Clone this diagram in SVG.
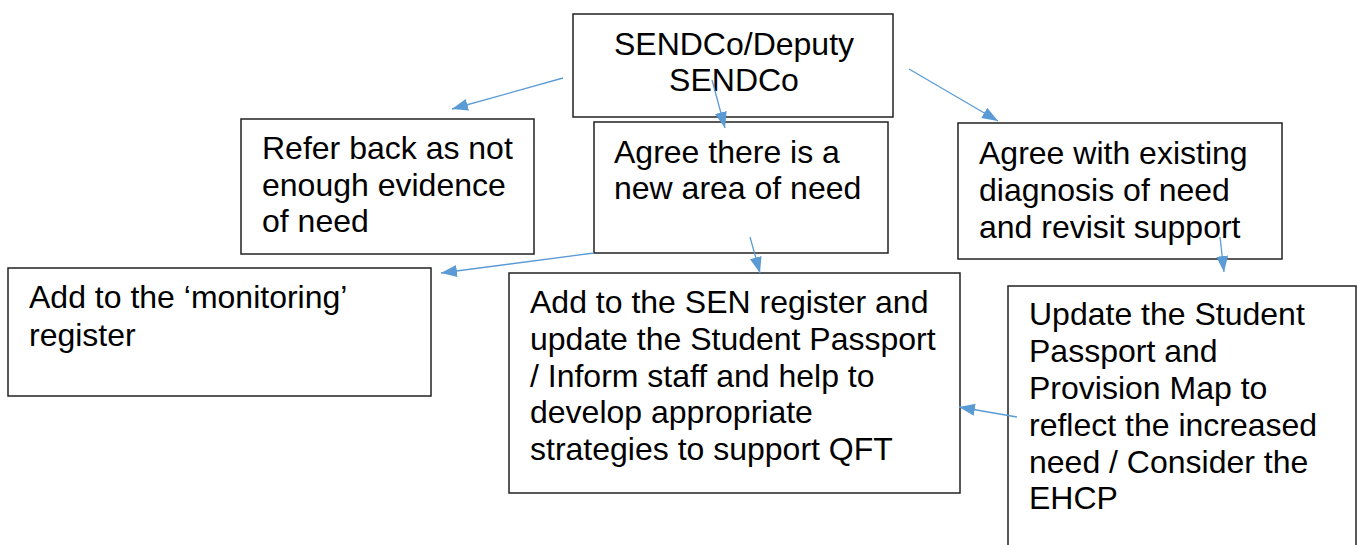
<svg xmlns="http://www.w3.org/2000/svg" width="1358" height="545" viewBox="0 0 1358 545">
<style>
.box{fill:#fff;stroke:#222;stroke-width:1.5}
.t{font-family:"Liberation Sans",Arial,sans-serif;font-size:32px;fill:#000}
.c{text-anchor:middle}
.conn line{stroke:#5B9BD5;stroke-width:1.3;fill:none}
</style>
<defs>
<marker id="ah" viewBox="0 0 16 12" refX="16" refY="6" markerWidth="16" markerHeight="12" markerUnits="userSpaceOnUse" orient="auto">
<path d="M0,0 L16,6 L0,12 z" fill="#5B9BD5"/>
</marker>
</defs>
<rect width="1358" height="545" fill="#fff"/>
<g id="n-sendco">
<rect class="box" x="573" y="14" width="320" height="103"/>
<text class="t c" x="734" y="55">SENDCo/Deputy</text>
<text class="t c" x="734" y="91">SENDCo</text>
</g>
<g id="n-refer">
<rect class="box" x="241" y="119" width="293" height="135"/>
<text class="t" x="262" y="159">Refer back as not</text>
<text class="t" x="262" y="196">enough evidence</text>
<text class="t" x="262" y="232">of need</text>
</g>
<g id="n-newneed">
<rect class="box" x="594" y="122" width="294" height="131"/>
<text class="t" x="614" y="163">Agree there is a</text>
<text class="t" x="614" y="199">new area of need</text>
</g>
<g id="n-existing">
<rect class="box" x="958" y="123" width="324" height="136"/>
<text class="t" x="979" y="164">Agree with existing</text>
<text class="t" x="979" y="201">diagnosis of need</text>
<text class="t" x="979" y="238">and revisit support</text>
</g>
<g id="n-monitoring">
<rect class="box" x="8" y="268" width="423" height="128"/>
<text class="t" x="29" y="308">Add to the ‘monitoring’</text>
<text class="t" x="29" y="346">register</text>
</g>
<g id="n-senreg">
<rect class="box" x="509" y="273" width="451" height="220"/>
<text class="t" x="530" y="313">Add to the SEN register and</text>
<text class="t" x="530" y="350">update the Student Passport</text>
<text class="t" x="530" y="387">/ Inform staff and help to</text>
<text class="t" x="530" y="423">develop appropriate</text>
<text class="t" x="530" y="460">strategies to support QFT</text>
</g>
<g id="n-update">
<rect class="box" x="1008" y="286" width="348" height="270"/>
<text class="t" x="1029" y="325">Update the Student</text>
<text class="t" x="1029" y="362">Passport and</text>
<text class="t" x="1029" y="399">Provision Map to</text>
<text class="t" x="1029" y="436">reflect the increased</text>
<text class="t" x="1029" y="473">need / Consider the</text>
<text class="t" x="1029" y="509">EHCP</text>
</g>
<g id="connectors" class="conn">
<line x1="563" y1="78" x2="452" y2="109" marker-end="url(#ah)"/>
<line x1="712" y1="80" x2="725" y2="128" marker-end="url(#ah)"/>
<line x1="909" y1="69" x2="998" y2="121" marker-end="url(#ah)"/>
<line x1="594" y1="253" x2="441" y2="273" marker-end="url(#ah)"/>
<line x1="750" y1="237" x2="760" y2="273" marker-end="url(#ah)"/>
<line x1="1220" y1="237" x2="1224" y2="272" marker-end="url(#ah)"/>
<line x1="1017" y1="417" x2="959" y2="407" marker-end="url(#ah)"/>
</g>
</svg>
